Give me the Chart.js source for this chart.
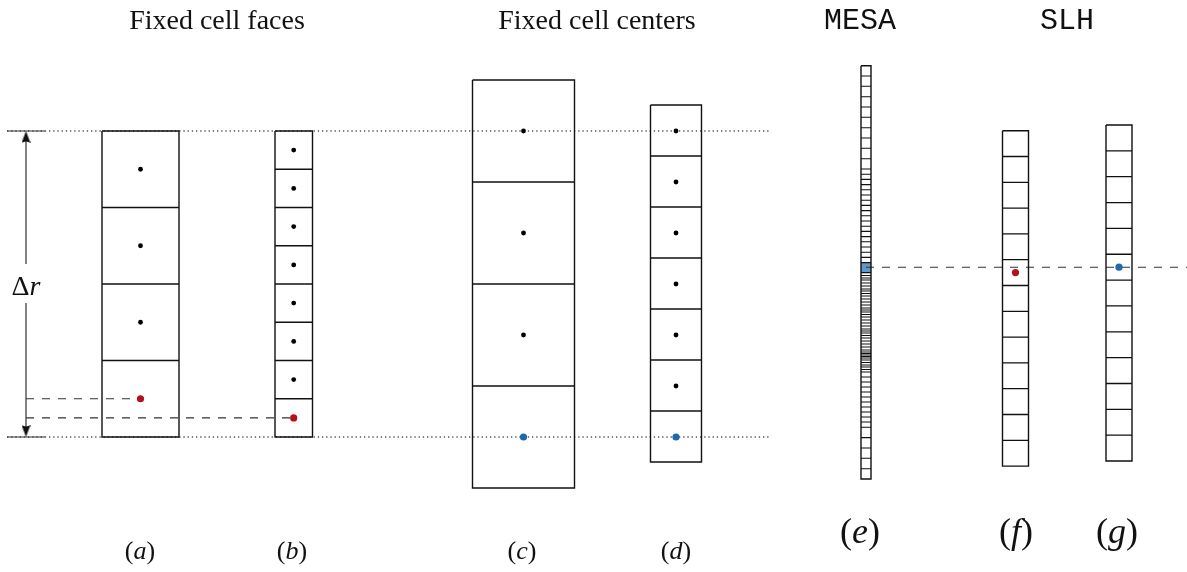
<!DOCTYPE html>
<html><head><meta charset="utf-8">
<script src="https://cdn.jsdelivr.net/npm/chart.js@4.4.1/dist/chart.umd.min.js"></script>
<style>html,body{margin:0;padding:0;background:#fff;overflow:hidden}#wrap{width:1187px;height:572px}</style>
</head><body><div id="wrap"><canvas id="c" width="1187" height="572"></canvas></div>
<script>
// ---------------- data (figure units, y grows downward) ----------------
const referenceLevels = [131, 437];          // dotted reference levels
const referenceSpan = [7, 770];              // x extent of dotted levels
const arrowX = 26;                           // Δr arrow position
const arrowTick = [7, 45];                   // short solid bars at arrow ends
const arrowLabelGap = [264, 303];            // shaft interrupted around the label

const columnIds   = ['a', 'b', 'c', 'd', 'e', 'f', 'g'];
const columnLeft  = [102, 275, 472.5, 650.5, 861, 1002.5, 1106];
const columnRight = [179, 312.5, 574.5, 701.5, 871, 1028.5, 1132];

const facesA = [131, 207.5, 284, 360.5, 437];
const facesB = [131, 169.25, 207.5, 245.75, 284, 322.25, 360.5, 398.75, 437];
const facesC = [80, 182, 284, 386, 488];
const facesD = [105, 156, 207, 258, 309, 360, 411, 462];
const facesE = [65.7, 76, 86.3, 96.7, 107, 117.3, 127.7, 138, 148.3, 158.7, 169,
  174.2, 179.4, 184.6, 189.8, 195, 200.2, 205.4, 210.6, 215.8, 221, 226.2, 231.4, 236.6, 241.8, 247, 252.2, 257.4, 262.6,
  272.6, 275.5, 278, 280, 283, 286, 289, 291, 293.5, 296, 299, 302, 305, 308, 310, 312, 314.5, 317, 320, 323, 326, 329,
  331, 333, 335.5, 338, 341, 344, 347, 350, 352, 353.5, 355, 356.5, 358, 360, 362.5, 365, 367, 369.5, 372,
  377, 382, 387, 392, 397, 402, 407, 412, 417, 422, 427.3, 437.6, 448, 458.3, 468.7, 479];
const facesF = [130.7, 156.5, 182.3, 208.1, 233.9, 259.7, 285.5, 311.3, 337.1, 362.9, 388.7, 414.5, 440.3, 466.1];
const facesG = [125, 150.85, 176.7, 202.55, 228.4, 254.25, 280.1, 305.95, 331.8, 357.65, 383.5, 409.35, 435.2, 461];

// cell-centre markers
const blackDotX = [140.5, 140.5, 140.5, 293.7, 293.7, 293.7, 293.7, 293.7, 293.7, 293.7, 523.5, 523.5, 523.5, 676, 676, 676, 676, 676, 676];
const blackDotY = [169.25, 245.75, 322.25, 150.1, 188.4, 226.6, 264.9, 303.1, 341.4, 379.6, 131, 233, 335, 131, 182, 233, 284, 335, 386];
const redDotX = [140.5, 293.7, 1015.5];
const redDotY = [398.75, 417.9, 272.6];
const blueDotX = [523.5, 676, 1119];
const blueDotY = [437, 437, 267.2];

// highlighted MESA cell and dashed guide lines
const mesaHighlight = [262.6, 272.6];
const dashedY     = [398.75, 417.9, 267.3];
const dashedStart = [26, 26, 866];
const dashedEnd   = [140.5, 293.7, 1187];

// text
const titleText = ['Fixed cell faces', 'Fixed cell centers', 'MESA', 'SLH'];
const titleX = [217, 597, 860, 1067];
const titleBaseline = 29;
const captionLetters = ['a', 'b', 'c', 'd', 'e', 'f', 'g'];
const captionX = [140, 292, 522, 676, 860, 1016, 1117];
const captionY = [559, 559, 559, 559, 543, 543, 543];
const captionSize = [26, 26, 26, 26, 36, 36, 36];
const deltaLabelY = 295;

// ---------------- build datasets ----------------
function toData(polylines) {
  const out = [];
  polylines.forEach((pl, i) => {
    if (i) out.push({x: pl[0][0], y: null});
    pl.forEach(p => out.push({x: p[0], y: p[1]}));
  });
  return out;
}
function outline(l, r, faces) {
  const t = faces[0], b = faces[faces.length - 1];
  return [[[l, t], [r, t], [r, b], [l, b], [l, t]]];
}
function inner(l, r, faces) {
  return faces.slice(1, -1).map(f => [[l, f], [r, f]]);
}
const allFaces = [facesA, facesB, facesC, facesD, facesE, facesF, facesG];
const ink = '#111';
const lineBase = {type: 'line', pointRadius: 0, fill: false, tension: 0, spanGaps: false, clip: false};

const outlines = [], inners = [], mesaInner = [];
allFaces.forEach((f, i) => {
  outlines.push(...outline(columnLeft[i], columnRight[i], f));
  if (columnIds[i] === 'e') mesaInner.push(...inner(columnLeft[i], columnRight[i], f));
  else inners.push(...inner(columnLeft[i], columnRight[i], f));
});

// arrowhead image (LaTeX-like)
function arrowHead() {
  const c = document.createElement('canvas'); c.width = 9; c.height = 12;
  const g = c.getContext('2d');
  g.fillStyle = '#111'; g.beginPath();
  g.moveTo(4.5, 0); g.lineTo(9, 12); g.quadraticCurveTo(4.5, 9, 0, 12); g.closePath(); g.fill();
  return c;
}
const head = arrowHead();

const datasets = [
  {...lineBase, label: 'blackDots', showLine: false, data: blackDotX.map((x, i) => ({x, y: blackDotY[i]})),
    pointRadius: 2.4, pointBackgroundColor: '#000', pointBorderWidth: 0, order: 0},
  {...lineBase, label: 'redDots', showLine: false, data: redDotX.map((x, i) => ({x, y: redDotY[i]})),
    pointRadius: 3.6, pointBackgroundColor: '#b3121d', pointBorderWidth: 0, order: 0},
  {...lineBase, label: 'blueDots', showLine: false, data: blueDotX.map((x, i) => ({x, y: blueDotY[i]})),
    pointRadius: 3.6, pointBackgroundColor: '#1f68ad', pointBorderWidth: 0, order: 0},
  {...lineBase, label: 'arrowHeads', showLine: false,
    data: [{x: arrowX, y: referenceLevels[0] + 6}, {x: arrowX, y: referenceLevels[1] - 6}],
    pointStyle: head, pointRotation: [0, 180], pointRadius: 6, order: 1},
  {...lineBase, label: 'outlines', data: toData(outlines), borderColor: ink, borderWidth: 1.4, order: 2},
  {...lineBase, label: 'faces', data: toData(inners), borderColor: ink, borderWidth: 1.3, order: 2},
  {...lineBase, label: 'mesaFaces', data: toData(mesaInner), borderColor: ink, borderWidth: 1.1, order: 2},
  {...lineBase, label: 'arrow', data: toData([
      [[arrowX, referenceLevels[0] + 4], [arrowX, arrowLabelGap[0]]],
      [[arrowX, arrowLabelGap[1]], [arrowX, referenceLevels[1] - 4]],
      [[arrowTick[0], referenceLevels[0]], [arrowTick[1], referenceLevels[0]]],
      [[arrowTick[0], referenceLevels[1]], [arrowTick[1], referenceLevels[1]]]]),
    borderColor: '#333', borderWidth: 1.2, order: 3},
  {...lineBase, label: 'dashed', data: toData(dashedY.map((y, i) => [[dashedStart[i], y], [dashedEnd[i], y]])),
    borderColor: '#333', borderWidth: 1.1, borderDash: [8, 8], order: 4},
  {...lineBase, label: 'dotted', data: toData(referenceLevels.map(y => [[referenceSpan[0], y], [referenceSpan[1], y]])),
    borderColor: '#555', borderWidth: 1.3, borderDash: [1.3, 2.9], order: 5},
  {...lineBase, label: 'mesaHighlight', data: [
      {x: columnLeft[4], y: (mesaHighlight[0] + mesaHighlight[1]) / 2},
      {x: columnRight[4], y: (mesaHighlight[0] + mesaHighlight[1]) / 2}],
    borderColor: '#5f98c9', borderWidth: mesaHighlight[1] - mesaHighlight[0], borderCapStyle: 'butt', order: 6}
];

// ---------------- text plugin ----------------
function drawRich(ctx, parts, cx, cy, align) {
  let w = 0;
  parts.forEach(p => { ctx.font = p.font; w += ctx.measureText(p.t).width; });
  let x = align === 'left' ? cx : cx - w / 2;
  ctx.textAlign = 'left';
  parts.forEach(p => { ctx.font = p.font; ctx.fillText(p.t, x, cy); x += ctx.measureText(p.t).width; });
}
const textPlugin = {
  id: 'figureText',
  afterDatasetsDraw(chart) {
    const {ctx, scales: {x, y}} = chart;
    ctx.save();
    ctx.fillStyle = '#111';
    ctx.textBaseline = 'alphabetic';
    titleText.forEach((t, i) => {
      const mono = (t === 'MESA' || t === 'SLH');
      const font = mono ? '30px "Liberation Mono"' : '28px "Liberation Serif"';
      drawRich(ctx, [{t, font}], x.getPixelForValue(titleX[i]), y.getPixelForValue(titleBaseline));
    });
    captionLetters.forEach((l, i) => {
      const s = captionSize[i];
      const up = s + 'px "Liberation Serif"', it = 'italic ' + s + 'px "Liberation Serif"';
      drawRich(ctx, [{t: '(', font: up}, {t: l, font: it}, {t: ')', font: up}],
        x.getPixelForValue(captionX[i]), y.getPixelForValue(captionY[i]));
    });
    // Δr label
    drawRich(ctx, [{t: 'Δ', font: '28px "Liberation Serif"'}, {t: 'r', font: 'italic 28px "Liberation Serif"'}],
      x.getPixelForValue(arrowX), y.getPixelForValue(deltaLabelY));
    ctx.restore();
  }
};

new Chart(document.getElementById('c'), {
  type: 'line',
  data: {datasets},
  options: {
    responsive: false, animation: false, events: [],
    layout: {padding: 0, autoPadding: false},
    plugins: {legend: {display: false}, tooltip: {enabled: false}, title: {display: false}},
    scales: {
      x: {type: 'linear', min: 0, max: 1187, display: false},
      y: {type: 'linear', min: 0, max: 572, reverse: true, display: false}
    }
  },
  plugins: [textPlugin]
});
</script></body></html>
